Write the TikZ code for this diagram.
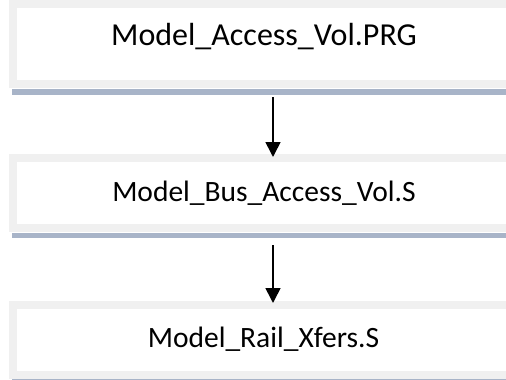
\documentclass[tikz,border=0pt]{standalone}
\usepackage{fontspec}
\setmainfont{Carlito}
\usetikzlibrary{arrows.meta}
\definecolor{framegray}{RGB}{240,240,240}
\definecolor{bandblue}{RGB}{168,180,200}
\begin{document}
\begin{tikzpicture}[x=1pt,y=-1pt,
  boxnode/.style={draw=framegray, line width=8pt, fill=white, rectangle, inner sep=0pt, minimum width=502pt},
  labeltext/.style={anchor=base, inner sep=0pt},
  bigtext/.style={font=\fontsize{32}{38}\selectfont},
  smalltext/.style={font=\fontsize{29.5}{35}\selectfont},
  band/.style={fill=bandblue, draw=none},
  arr/.style={line width=1.6pt, -{Triangle[width=15pt,length=15pt]}}]
\useasboundingbox (0,0) rectangle (506,380);
\begin{scope}
\clip (0,0) rectangle (506,380);
\node[boxnode, minimum height=80pt] (b1) at (264,44) {};
\node[boxnode, minimum height=70pt] (b2) at (264,193) {};
\node[boxnode, minimum height=70pt] (b3) at (264,340) {};
\fill[band] (12,89) rectangle (510,95);
\fill[band] (12,233) rectangle (510,238);
\fill[band] (12,379) rectangle (510,381);
\end{scope}
\node[labeltext, bigtext] (t1) at (264,45) {Model\_Access\_Vol.PRG};
\node[labeltext, smalltext] (t2) at (264,201) {Model\_Bus\_Access\_Vol.S};
\node[labeltext, smalltext] (t3) at (263.5,347) {Model\_Rail\_Xfers.S};
\draw[arr, shorten <=9pt, shorten >=-3pt] ([xshift=9pt]b1.south) -- ([xshift=9pt]b2.north);
\draw[arr, shorten <=13pt, shorten >=-2pt] ([xshift=9pt]b2.south) -- ([xshift=9pt]b3.north);
\end{tikzpicture}
\end{document}
